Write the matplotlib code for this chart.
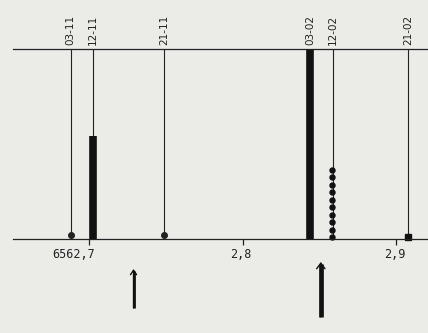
import numpy as np
import matplotlib
matplotlib.use("Agg")
import matplotlib.pyplot as plt

# line components (wavelength in A) and the kind of mark drawn on each
labels = ["03-11", "12-11", "21-11", "03-02", "12-02", "21-02"]
waves = [6562.688, 6562.7026, 6562.749, 6562.8442, 6562.8588, 6562.9078]
marks = ["dot", "bar", "dot", "bar", "dotted", "square"]
heights = [0.0, 0.54, 0.0, 1.0, 0.38, 0.0]

tick_pos = [6562.7, 6562.8, 6562.9]
tick_lab = ["6562,7", "2,8", "2,9"]
arrow_pos = [6562.729, 6562.851]

BG = "#ebebe8"


def main():
    fig = plt.figure(figsize=(4.28, 3.33), dpi=100, facecolor=BG)
    ax = fig.add_axes([13 / 428, 94 / 333, 415 / 428, 190 / 333])
    ax.set_facecolor(BG)
    ax.set_xlim(6562.6505, 6562.9208)
    ax.set_ylim(0, 1)
    for s in ("left", "right"):
        ax.spines[s].set_visible(False)
    for s in ("top", "bottom"):
        ax.spines[s].set_linewidth(0.9)
        ax.spines[s].set_color("#222222")
    ax.set_yticks([])
    ax.set_xticks(tick_pos, labels=[])
    ax.tick_params(axis="x", direction="out", length=4.5, width=0.9, color="#222222")

    for lab, w, m, h in zip(labels, waves, marks, heights):
        ax.vlines(w, 0, 1, color="#222222", lw=0.8)
        if m == "bar":
            ax.vlines(w, 0, h, color="#111111", lw=5.5)
        elif m == "dot":
            ax.plot(w, 0.02, "o", color="#222222", ms=4, clip_on=False)
        elif m == "square":
            ax.plot(w, 0.012, "s", color="#111111", ms=5, clip_on=False)
        elif m == "dotted":
            ys = np.arange(0.01, h, 0.0395)
            ax.plot(np.full(len(ys), w - 0.0007), ys, "o", color="#111111", ms=3.6,
                    clip_on=False)
        ax.annotate(lab, xy=(w, 1), xycoords=("data", "axes fraction"),
                    xytext=(0, 4), textcoords="offset pixels", rotation=90,
                    ha="center", va="bottom", fontsize=7.5, color="#222222",
                    family="DejaVu Sans", annotation_clip=False)

    offs = [-15, -2, -1]
    for t, lab, dx in zip(tick_pos, tick_lab, offs):
        ax.annotate(lab, xy=(t, 0), xycoords=("data", "axes fraction"),
                    xytext=(dx, -16), textcoords="offset pixels",
                    ha="center", va="center", fontsize=8.5, color="#222222",
                    family="DejaVu Sans Mono", annotation_clip=False)

    # arrows under the axis: (tip, tail, shaft width, head half-width, head length)
    spans = [(-0.158, -0.363, 2.0, 0.22, 0.32), (-0.121, -0.41, 3.4, 0.3, 0.4)]
    for x, (ytop, ybot, sw, hw, hl) in zip(arrow_pos, spans):
        ax.plot([x, x], [ybot, ytop - 0.01], color="#111111", lw=sw,
                solid_capstyle="butt", clip_on=False)
        ax.annotate("", xy=(x, ytop), xytext=(x, ybot),
                    arrowprops=dict(arrowstyle=f"->,head_length={hl},head_width={hw}",
                                    color="#111111", lw=1.0, shrinkA=0, shrinkB=0),
                    annotation_clip=False)

    fig.savefig("out.png", dpi=100, facecolor=BG)


if __name__ == "__main__":
    main()
